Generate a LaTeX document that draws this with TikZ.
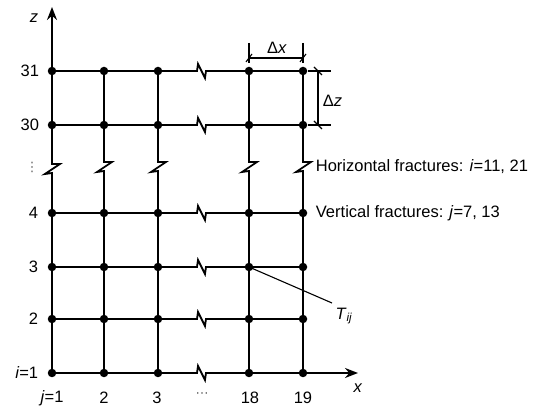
\documentclass[tikz,border=0pt]{standalone}
\usepackage{fontspec}
\setmainfont{Liberation Sans}
\newfontfamily\dejavu{DejaVu Sans}
\usetikzlibrary{arrows.meta}
\begin{document}
\begin{tikzpicture}[x=1pt,y=-1pt,line width=1.8pt,
  dot/.style={circle,fill=black,draw=none,inner sep=0pt,minimum size=8.5pt},
  lbl/.style={font=\fontsize{16.5}{19}\selectfont,inner sep=0pt},
  dim/.style={line width=1.1pt},
  hbrk/.style={insert path={-- ++(39,0) -- ++(1,-7) -- ++(7,14) -- ++(1,-7)}},
  vbrk/.style={insert path={-- ++(0,37) -- ++(8,0) -- ++(-15,10) -- ++(7,-1)}},
  tip/.style={-{Stealth[length=13pt,width=10pt]}}]
\useasboundingbox (0,0) rectangle (539,406);
% grid points
\foreach \c/\x in {1/52,2/104,3/158,18/249,19/303}
  \foreach \r/\y in {31/71,30/125,4/213,3/267,2/319,1/373}
    \coordinate (p-\c-\r) at (\x,\y);
\coordinate (ztip) at (52,7);
\coordinate (xtip) at (358,373);
% horizontal lines
\foreach \r in {31,30,4,3,2}
  \draw (p-1-\r) -- (p-3-\r) [hbrk] -- (p-18-\r) -- (p-19-\r);
\draw[tip] (p-1-1) -- (p-3-1) [hbrk] -- (p-18-1) -- (p-19-1) -- (xtip);
% vertical lines
\foreach \c in {2,3,18,19}
  \draw (p-\c-31) -- (p-\c-30) [vbrk] -- (p-\c-4) -- (p-\c-1);
\draw[tip] (p-1-1) -- (p-1-4) -- ++(0,-40) -- ++(-7,1) -- ++(15,-10) -- ++(-8,0) -- (p-1-30) -- (ztip);
% dots
\foreach \c in {1,2,3,18,19}
  \foreach \r in {31,30,4,3,2,1}
    \node[dot] (d-\c-\r) at (p-\c-\r) {};
% axis labels
\node[lbl] (zl) at (34,18) {\textit{z}};
\node[lbl] (xl) at (358,388) {\textit{x}};
% row labels
\node[lbl,anchor=east] (r31) at (40,71) {31};
\node[lbl,anchor=east] (r30) at (40,125) {30};
\node[lbl,text=black!60,font=\dejavu\fontsize{13}{15}\selectfont] (rdots) at (32,167) {⋮};
\node[lbl,anchor=east] (r4) at (39,213) {4};
\node[lbl,anchor=east] (r3) at (39,267) {3};
\node[lbl,anchor=east] (r2) at (39,319) {2};
\node[lbl,anchor=east] (r1) at (39,373) {\textit{i}=1};
% column labels
\node[lbl] (c1) at (52,398) {\textit{j}=1};
\node[lbl] (c2) at (104,398) {2};
\node[lbl] (c3) at (157,398) {3};
\node[lbl,text=black!60,font=\dejavu\fontsize{13}{15}\selectfont] (cdots) at (202,395) {⋯};
\node[lbl] (c18) at (250,398) {18};
\node[lbl] (c19) at (303,398) {19};
% dimension dx
\coordinate (dxa) at (249,58);
\coordinate (dxb) at (303,58);
\draw[dim] (249,43) -- (249,63);
\draw[dim] (303,43) -- (303,63);
\draw[dim] (dxa) -- (dxb);
\draw[dim] (dxa) ++(-3,4) -- ++(6,-8);
\draw[dim] (dxb) ++(-3,4) -- ++(6,-8);
\node[lbl] (dxl) at (277,48) {Δ\textit{x}};
% dimension dz
\coordinate (dza) at (318,71);
\coordinate (dzb) at (318,125);
\draw[dim] (308,71) -- (331,71);
\draw[dim] (308,125) -- (331,125);
\draw[dim] (dza) -- (dzb);
\draw[dim] (dza) ++(-4,-4) -- ++(8,8);
\draw[dim] (dzb) ++(-4,-4) -- ++(8,8);
\node[lbl,anchor=west] (dzl) at (322,101) {Δ\textit{z}};
% notes
\node[lbl,anchor=west] (hf) at (315,167) {Horizontal fractures: \textit{i}=11, 21};
\node[lbl,anchor=west] (vf) at (315,213) {Vertical fractures: \textit{j}=7, 13};
% T_ij leader
\coordinate (tl) at (332,303);
\draw[dim] (p-18-3) -- (tl);
\node[lbl] (tij) at (344,316) {\textit{T}\textsubscript{\textit{ij}}};
\end{tikzpicture}
\end{document}
